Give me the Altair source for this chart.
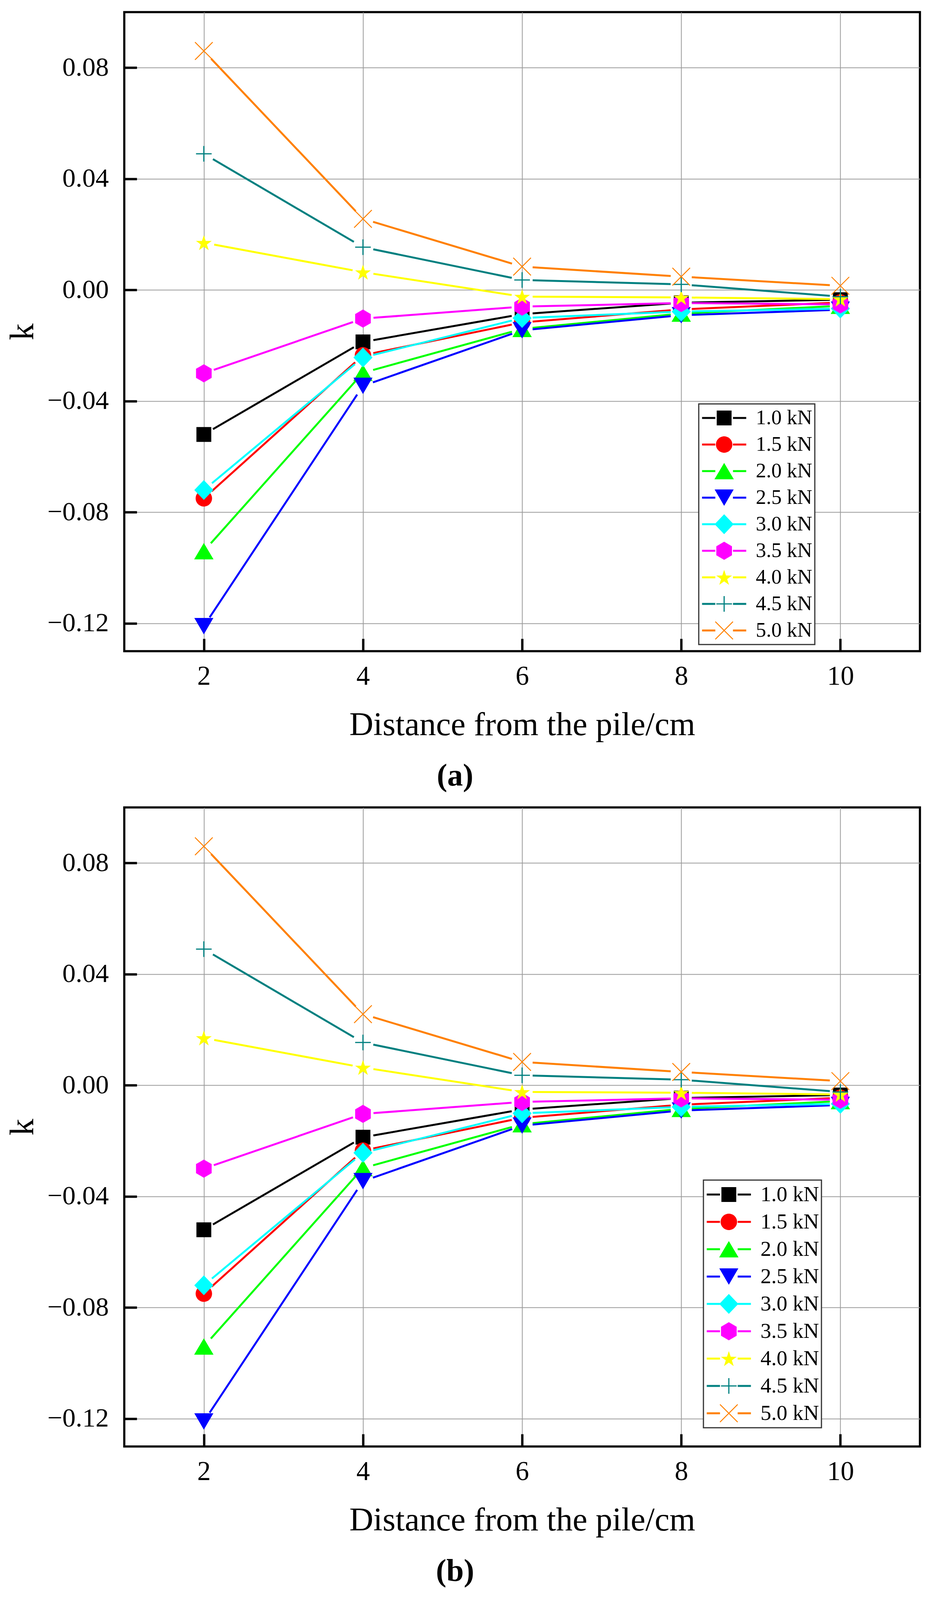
import math
import altair as alt
import pandas as pd

# ---------------- data ----------------
distances = [2, 4, 6, 8, 10]
loads = ["1.0 kN", "1.5 kN", "2.0 kN", "2.5 kN", "3.0 kN",
         "3.5 kN", "4.0 kN", "4.5 kN", "5.0 kN"]
k_1_0 = [-0.052, -0.0187, -0.0087, -0.0046, -0.0035]
k_1_5 = [-0.075, -0.0235, -0.0117, -0.0070, -0.0045]
k_2_0 = [-0.094, -0.0298, -0.0140, -0.0085, -0.0057]
k_2_5 = [-0.121, -0.0345, -0.0145, -0.0091, -0.0071]
k_3_0 = [-0.072, -0.0243, -0.0101, -0.0078, -0.0067]
k_3_5 = [-0.030, -0.0103, -0.0060, -0.0047, -0.0052]
k_4_0 = [0.017, 0.0064, -0.0024, -0.0027, -0.0033]
k_4_5 = [0.049, 0.0154, 0.0036, 0.0020, -0.0024]
k_5_0 = [0.086, 0.0256, 0.0084, 0.0048, 0.0015]
series = [k_1_0, k_1_5, k_2_0, k_2_5, k_3_0, k_3_5, k_4_0, k_4_5, k_5_0]

x_ticks = [2, 4, 6, 8, 10]
y_ticks = [-0.12, -0.08, -0.04, 0.0, 0.04, 0.08]

colors = ["#000000", "#ff0000", "#00ff00", "#0000ff", "#00ffff",
          "#ff00ff", "#ffff00", "#008080", "#ff8000"]

rows = []
for name, vals in zip(loads, series):
    for d, v in zip(distances, vals):
        rows.append({"load": name, "x": d, "k": v})
df = pd.DataFrame(rows)


# ---------------- marker shapes (unit square paths) ----------------
def poly(pts):
    return "M" + "L".join(f"{x:.3f},{y:.3f}" for x, y in pts) + "Z"


def bar(length, half_w, angle_deg):
    a = math.radians(angle_deg)
    c, s = math.cos(a), math.sin(a)
    base = [(-length, -half_w), (length, -half_w), (length, half_w), (-length, half_w)]
    return poly([(x * c - y * s, x * s + y * c) for x, y in base])


def star(R, r, dy):
    pts = []
    for i in range(10):
        rad = R if i % 2 == 0 else r
        a = math.radians(-90 + 36 * i)
        pts.append((rad * math.cos(a), rad * math.sin(a) + dy))
    return poly(pts)


shapes = [
    "M-0.95,-0.95H0.95V0.95H-0.95Z",                           # square
    "M1.05,0A1.05,1.05,0,1,1,-1.05,0A1.05,1.05,0,1,1,1.05,0Z",  # circle
    poly([(0, -1.05), (1.24, 1.05), (-1.24, 1.05)]),            # triangle up
    poly([(0, 1.05), (-1.22, -1.05), (1.22, -1.05)]),           # triangle down
    poly([(0, -1.27), (1.22, 0), (0, 1.27), (-1.22, 0)]),       # diamond
    poly([(0, -1.16), (1.0, -0.58), (1.0, 0.58), (0, 1.16),
          (-1.0, 0.58), (-1.0, -0.58)]),                        # hexagon
    star(1.06, 0.41, 0.10),                                     # star
    bar(1.0, 0.075, 0) + bar(1.0, 0.075, 90),                   # plus
    bar(1.6, 0.06, 45) + bar(1.6, 0.06, -45),                   # x
]

# ---------------- layout constants ----------------
SERIF = "Liberation Serif"
W, H = 2036, 1636
X_DOM = [1, 11]
Y_DOM = [-0.13, 0.10]
SX = W / (X_DOM[1] - X_DOM[0])
SY = H / (Y_DOM[1] - Y_DOM[0])
GAP = 27
MARK_SIZE = 1600
STUB_LEN = 113
TICK_LEN = 32
MINUS_EXPR = "replace(format(datum.value, '.2f'), '-', '\u2212')"


def panel(tag, leg_x, leg_y, leg_font, clip_h):
    xscale = alt.Scale(domain=X_DOM, nice=False, zero=False)
    yscale = alt.Scale(domain=Y_DOM, nice=False, zero=False)

    x_axis = alt.Axis(values=x_ticks, format="d", title="Distance from the pile/cm",
                      offset=-TICK_LEN, ticks=True, tickSize=TICK_LEN, tickWidth=6,
                      tickColor="black", domain=False, grid=True,
                      gridColor="#9a9a9a", gridWidth=2,
                      labelFont=SERIF, labelFontSize=69, labelColor="black",
                      labelPadding=30, labelFlush=False,
                      titleFont=SERIF, titleFontSize=85, titleFontWeight="normal",
                      titleColor="black", titlePadding=48)
    y_axis = alt.Axis(values=y_ticks, labelExpr=MINUS_EXPR, title="k",
                      offset=-TICK_LEN, ticks=True, tickSize=TICK_LEN, tickWidth=6,
                      tickColor="black", domain=False, grid=True,
                      gridColor="#9a9a9a", gridWidth=2,
                      labelFont=SERIF, labelFontSize=68, labelColor="black",
                      labelPadding=40, labelFlush=False,
                      titleFont=SERIF, titleFontSize=86, titleFontWeight="normal",
                      titleColor="black", titlePadding=48)

    c1 = (math.ceil(STUB_LEN + 5)) / 2.0
    c2 = max(math.ceil(math.sqrt(MARK_SIZE)), leg_font) / 2.0
    shift = c1 - c2
    lab_off = 22

    leg_lines = alt.Legend(orient="none", legendX=leg_x, legendY=leg_y, direction="vertical",
                           title=None, padding=6, rowPadding=8, clipHeight=clip_h,
                           symbolType="M-1,0H-0.4M0.4,0H1", symbolSize=STUB_LEN ** 2,
                           symbolStrokeWidth=5, labelFont=SERIF, labelFontSize=leg_font,
                           labelColor="black", labelOffset=lab_off, labelLimit=500,
                           fillColor="white", strokeColor="#333333")
    leg_pts = alt.Legend(orient="none", legendX=leg_x + shift, legendY=leg_y,
                         direction="vertical", title=None, padding=6, rowPadding=8,
                         clipHeight=clip_h, symbolSize=MARK_SIZE, symbolStrokeWidth=0,
                         labelFont=SERIF, labelFontSize=leg_font, labelColor="black",
                         labelOffset=lab_off + shift, labelLimit=500, labelOpacity=0)

    base = alt.Chart(df)
    lines = base.transform_window(
        x_next="lead(x)", k_next="lead(k)", groupby=["load"],
        sort=[alt.SortField("x", order="ascending")]
    ).transform_filter("isValid(datum.x_next)").transform_calculate(
        dxp=f"(datum.x_next - datum.x) * {SX}",
        dyp=f"(datum.k_next - datum.k) * {SY}",
    ).transform_calculate(
        t=f"{GAP} / sqrt(datum.dxp * datum.dxp + datum.dyp * datum.dyp)"
    ).transform_calculate(
        xa="datum.x + datum.t * (datum.x_next - datum.x)",
        ya="datum.k + datum.t * (datum.k_next - datum.k)",
        xb="datum.x_next - datum.t * (datum.x_next - datum.x)",
        yb="datum.k_next - datum.t * (datum.k_next - datum.k)",
    ).mark_rule(strokeWidth=5, strokeCap="butt").encode(
        x=alt.X("xa:Q", scale=xscale, axis=x_axis),
        y=alt.Y("ya:Q", scale=yscale, axis=y_axis),
        x2="xb:Q",
        y2="yb:Q",
        stroke=alt.Stroke("load:N", scale=alt.Scale(domain=loads, range=colors),
                          legend=leg_lines),
    )

    # fill/shape use the data-driven (sorted) domain so that their legend stays
    # separate from the line legend
    points = base.transform_calculate(load_p="datum.load").mark_point(
        filled=True, size=MARK_SIZE, strokeWidth=0, opacity=1
    ).encode(
        x=alt.X("x:Q", scale=xscale),
        y=alt.Y("k:Q", scale=yscale),
        fill=alt.Fill("load_p:N", scale=alt.Scale(range=colors), legend=leg_pts),
        shape=alt.Shape("load_p:N", scale=alt.Scale(range=shapes), legend=leg_pts),
    )

    return alt.layer(lines, points).properties(
        width=W, height=H,
        title=alt.TitleParams(tag, orient="bottom", anchor="middle", frame="bounds",
                              font=SERIF, fontSize=80, fontWeight="bold",
                              color="black", offset=50, dx=-20),
    )


pa = panel("(a)", 1470, 1003, 53, 60)
pb = panel("(b)", 1482, 954, 55, 62)

chart = alt.vconcat(pa, pb, spacing=34).resolve_legend(
    stroke="independent", fill="independent", shape="independent"
).properties(
    padding={"left": 4, "top": 20, "right": 5, "bottom": 5},
    background="white",
).configure_view(stroke="black", strokeWidth=5.5).configure_legend(strokeWidth=3)

chart.save("out.html", embed_options={"renderer": "svg", "actions": False})
